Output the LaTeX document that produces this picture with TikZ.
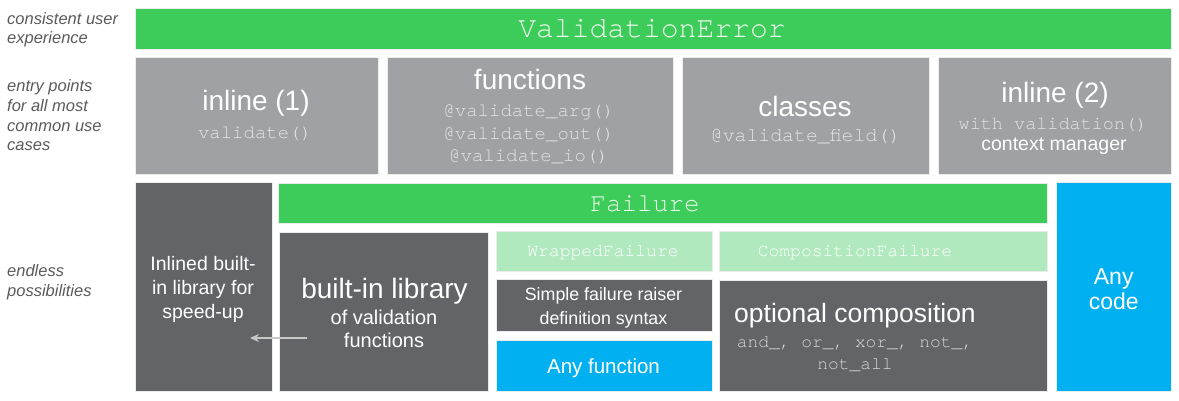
\documentclass[tikz,border=0pt]{standalone}
\usepackage{fontspec}
\setmainfont{Liberation Sans}
\newfontfamily\monofont{TeX Gyre Cursor}
\usetikzlibrary{arrows.meta}
\definecolor{vgreen}{HTML}{3DCC5A}
\definecolor{lgreen}{HTML}{B1E9BF}
\definecolor{ltgray}{HTML}{A0A1A4}
\definecolor{dkgray}{HTML}{636468}
\definecolor{vblue}{HTML}{00B0F0}
\definecolor{labelgray}{HTML}{5A5A5A}
\definecolor{codegray}{HTML}{E4E4E4}
\definecolor{codedark}{HTML}{D6D6D6}
\definecolor{greentext}{HTML}{EEF9EF}
\definecolor{arrowgray}{HTML}{C8C8C8}
\tikzset{
  box/.style={rectangle, inner sep=0pt, outer sep=0pt, draw=white!85!gray, line width=0.6pt, anchor=north west},
  lbl/.style={anchor=base west, text=labelgray, inner sep=0pt, font=\itshape\fontsize{16.5}{20}\selectfont},
  ttl/.style={anchor=base, text=white, inner sep=0pt, text depth=4pt, font=\fontsize{28}{30}\selectfont},
  sub/.style={anchor=base, text=white, inner sep=0pt, font=\fontsize{19.5}{22}\selectfont},
  code/.style={anchor=base, text=codegray, inner sep=0pt, text height=10pt, text depth=2.5pt, font=\monofont\fontsize{19}{20}\selectfont},
  bigcode/.style={anchor=base, text=greentext, inner sep=0pt},
}
\begin{document}
\begin{tikzpicture}[x=1pt,y=-1pt]
\useasboundingbox (0,0) rectangle (1179,400);
% left labels
\node[lbl] (l1a) at (7,24.3) {consistent user};
\node[lbl] (l1b) at (7,43.3) {experience};
\node[lbl] (l2a) at (7,91.7) {entry points};
\node[lbl] (l2b) at (7,111.5) {for all most};
\node[lbl] (l2c) at (7,131.2) {common use};
\node[lbl] (l2d) at (7,150.8) {cases};
\node[lbl] (l3a) at (7,276.7) {endless};
\node[lbl] (l3b) at (7,296.7) {possibilities};
% row 1
\node[box, fill=vgreen, minimum width=1036pt, minimum height=41pt] (ve) at (135,8) {};
\node[bigcode, font=\monofont\fontsize{29.7}{30}\selectfont] (vet) at (652,37) {ValidationError};
% row 2
\node[box, fill=ltgray, minimum width=243pt, minimum height=117pt] (inl1) at (135,57) {};
\node[box, fill=ltgray, minimum width=286pt, minimum height=117pt] (func) at (387,57) {};
\node[box, fill=ltgray, minimum width=247pt, minimum height=117pt] (cls) at (682,57) {};
\node[box, fill=ltgray, minimum width=233pt, minimum height=117pt] (inl2) at (938,57) {};
\node[ttl] (inl1t) at (256,110) {inline (1)};
\node[code] (inl1c) at (255,138.5) {validate()};
\node[ttl] (funct) at (530,89.3) {functions};
\node[code] (funca) at (529,116.7) {@validate\_arg()};
\node[code] (funcb) at (529,139.3) {@validate\_out()};
\node[code] (funcc) at (529,161.7) {@validate\_io()};
\node[ttl] (clst) at (805,116) {classes};
\node[code, font=\monofont\fontsize{19.8}{20}\selectfont] (clsc) at (806,141.7) {@validate\_field()};
\node[ttl] (inl2t) at (1055,102.7) {inline (2)};
\node[code, font=\monofont\fontsize{18.5}{20}\selectfont] (inl2c) at (1053,129) {with validation()};
\node[sub] (inl2s) at (1054,150.5) {context manager};
% row 3
\node[box, fill=dkgray, minimum width=137pt, minimum height=209pt] (inlined) at (135,182) {};
\node[box, fill=vgreen, minimum width=769pt, minimum height=40pt] (fail) at (278,183) {};
\node[box, fill=dkgray, minimum width=209pt, minimum height=159pt] (bil) at (279,232) {};
\node[box, fill=lgreen, minimum width=216pt, minimum height=40pt] (wrap) at (496,231) {};
\node[box, fill=lgreen, minimum width=328pt, minimum height=40pt] (compf) at (719,231) {};
\node[box, fill=dkgray, minimum width=216pt, minimum height=52pt] (simple) at (496,279) {};
\node[box, fill=vblue, minimum width=216pt, minimum height=51pt] (anyf) at (496,340) {};
\node[box, fill=dkgray, minimum width=328pt, minimum height=111pt] (optc) at (719,280) {};
\node[box, fill=vblue, minimum width=115pt, minimum height=209pt] (anyc) at (1056,182) {};
% row 3 texts
\node[bigcode, font=\monofont\fontsize{26}{28}\selectfont] (failt) at (645,211.7) {Failure};
\node[code, text=white, font=\monofont\fontsize{18}{20}\selectfont] (wrapt) at (603,256.7) {WrappedFailure};
\node[code, text=white, font=\monofont\fontsize{18}{20}\selectfont] (compft) at (855,256.7) {CompositionFailure};
\node[sub] (inla) at (203,270.7) {Inlined built-};
\node[sub] (inlb) at (203,294.3) {in library for};
\node[sub] (inlc) at (203,318.3) {speed-up};
\node[ttl] (bilt) at (384.5,298.3) {built-in library};
\node[sub, font=\fontsize{20}{22}\selectfont] (bila) at (384,324.3) {of validation};
\node[sub, font=\fontsize{20}{22}\selectfont] (bilb) at (384,347.7) {functions};
\node[sub, font=\fontsize{17.8}{20}\selectfont] (simplea) at (603.5,300) {Simple failure raiser};
\node[sub, font=\fontsize{17.8}{20}\selectfont] (simpleb) at (603.5,324) {definition syntax};
\node[sub, font=\fontsize{20.5}{22}\selectfont] (anyft) at (603.5,373.3) {Any function};
\node[ttl, font=\fontsize{26.5}{28}\selectfont] (optct) at (855,322.7) {optional composition};
\node[code, text=codedark, font=\monofont\fontsize{17.9}{20}\selectfont] (optca) at (855,347.7) {and\_, or\_, xor\_, not\_,};
\node[code, text=codedark, font=\monofont\fontsize{17.9}{20}\selectfont] (optcb) at (855,369.3) {not\_all};
\node[sub, font=\fontsize{23}{25}\selectfont] (anyca) at (1113.7,284) {Any};
\node[sub, font=\fontsize{23}{25}\selectfont] (anycb) at (1113.7,309.5) {code};
% arrow
\coordinate (arrS) at (307,338);
\coordinate (arrE) at (250,338);
\draw[-{Stealth[length=9pt,width=8pt]}, draw=arrowgray, fill=arrowgray, line width=1.3pt] (arrS) -- (arrE);
\end{tikzpicture}
\end{document}
